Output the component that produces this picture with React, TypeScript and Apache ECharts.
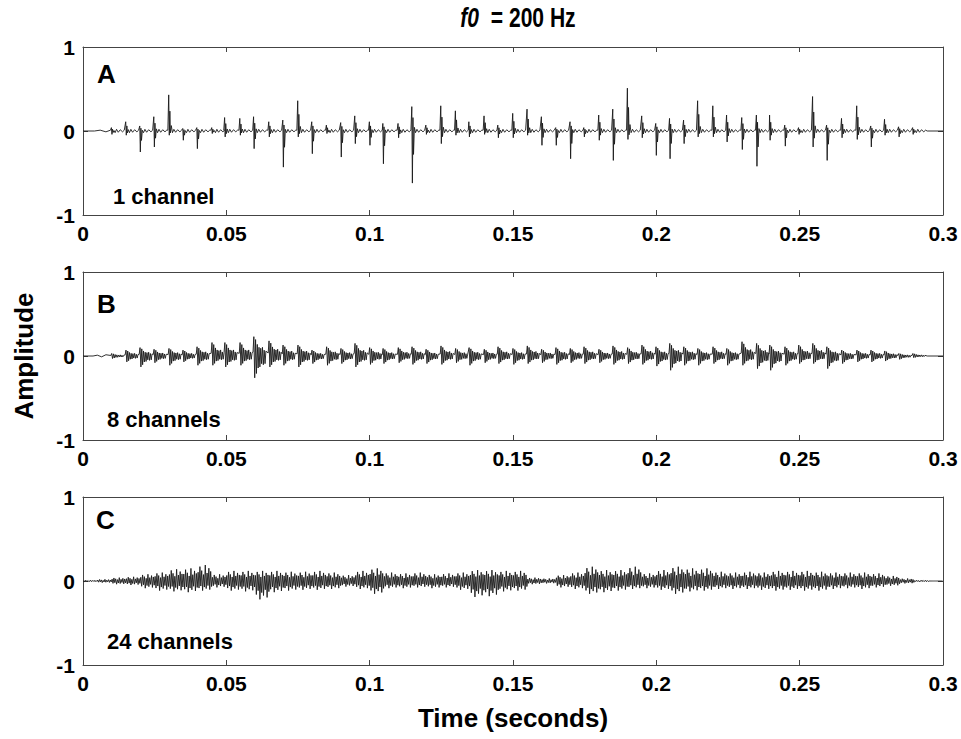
import React, { useEffect, useRef } from "react";
import * as echarts from "echarts";

// ---- Data ----
const X_TICKS = [0, 0.05, 0.1, 0.15, 0.2, 0.25, 0.3];
const Y_TICKS = [-1, 0, 1];
const PANEL_LETTERS = ["A", "B", "C"];
const PANEL_NOTES = ["1 channel", "8 channels", "24 channels"];

// pulse times (s) shared by panels A and B (one pulse per f0 period)
const PULSE_TIMES = [
  0.0100, 0.0150, 0.0199, 0.0248, 0.0300, 0.0349, 0.0398, 0.0450, 0.0495, 0.0548,
  0.0596, 0.0649, 0.0698, 0.0750, 0.0799, 0.0850, 0.0900, 0.0949, 0.1000, 0.1047,
  0.1100, 0.1148, 0.1197, 0.1249, 0.1300, 0.1347, 0.1400, 0.1448, 0.1500, 0.1550,
  0.1600, 0.1650, 0.1700, 0.1748, 0.1800, 0.1849, 0.1900, 0.1950, 0.1999, 0.2047,
  0.2096, 0.2145, 0.2198, 0.2246, 0.2299, 0.2350, 0.2396, 0.2449, 0.2497, 0.2546,
  0.2595, 0.2647, 0.2700, 0.2749, 0.2797, 0.2846, 0.2895,
];

// Panel A: positive and negative peak of each pulse
const UP_A = [
  0.04, 0.11, 0.06, 0.17, 0.43, 0.03, 0.04, 0.04, 0.16, 0.15,
  0.17, 0.11, 0.13, 0.36, 0.11, 0.07, 0.10, 0.18, 0.11, 0.09,
  0.09, 0.29, 0.07, 0.30, 0.24, 0.11, 0.18, 0.07, 0.21, 0.26,
  0.17, 0.04, 0.11, 0.04, 0.19, 0.26, 0.51, 0.18, 0.09, 0.15,
  0.13, 0.36, 0.30, 0.19, 0.16, 0.19, 0.19, 0.07, 0.04, 0.41,
  0.07, 0.15, 0.30, 0.06, 0.14, 0.05, 0.04,
];
const DOWN_A = [
  -0.04, -0.05, -0.25, -0.19, -0.05, -0.11, -0.21, -0.03, -0.07, -0.05,
  -0.21, -0.07, -0.43, -0.07, -0.27, -0.03, -0.31, -0.15, -0.17, -0.39,
  -0.08, -0.62, -0.04, -0.15, -0.05, -0.07, -0.04, -0.08, -0.08, -0.05,
  -0.17, -0.17, -0.33, -0.07, -0.11, -0.35, -0.10, -0.08, -0.29, -0.33,
  -0.15, -0.07, -0.07, -0.13, -0.22, -0.42, -0.11, -0.18, -0.04, -0.19,
  -0.35, -0.08, -0.10, -0.19, -0.05, -0.07, -0.04,
];

// Panel B: positive and negative peak of each burst
const UP_B = [
  0.03, 0.07, 0.10, 0.08, 0.09, 0.07, 0.11, 0.16, 0.16, 0.16,
  0.23, 0.18, 0.13, 0.13, 0.07, 0.11, 0.09, 0.15, 0.10, 0.09,
  0.10, 0.11, 0.08, 0.12, 0.09, 0.10, 0.08, 0.11, 0.09, 0.12,
  0.08, 0.10, 0.09, 0.11, 0.08, 0.12, 0.10, 0.13, 0.11, 0.15,
  0.11, 0.09, 0.11, 0.09, 0.17, 0.15, 0.13, 0.11, 0.13, 0.15,
  0.11, 0.07, 0.07, 0.07, 0.06, 0.03, 0.03,
];
const DOWN_B = [
  -0.03, -0.07, -0.13, -0.08, -0.11, -0.07, -0.11, -0.11, -0.13, -0.11,
  -0.26, -0.13, -0.11, -0.13, -0.09, -0.11, -0.09, -0.13, -0.10, -0.09,
  -0.08, -0.10, -0.09, -0.10, -0.08, -0.11, -0.08, -0.09, -0.10, -0.09,
  -0.08, -0.10, -0.08, -0.09, -0.08, -0.10, -0.09, -0.10, -0.12, -0.17,
  -0.11, -0.11, -0.09, -0.11, -0.11, -0.15, -0.17, -0.11, -0.09, -0.09,
  -0.15, -0.09, -0.07, -0.07, -0.06, -0.04, -0.02,
];

// Panel C: envelope per 5 ms window (window k starts at k * 0.005 s)
const C_WINDOW = 0.005;
const UP_C = [
  0.01, 0.02, 0.04, 0.05, 0.08, 0.10, 0.14, 0.15, 0.19, 0.08,
  0.12, 0.12, 0.12, 0.12, 0.11, 0.11, 0.12, 0.10, 0.07, 0.12,
  0.15, 0.10, 0.09, 0.10, 0.08, 0.09, 0.10, 0.13, 0.13, 0.12,
  0.12, 0.04, 0.03, 0.07, 0.10, 0.17, 0.13, 0.13, 0.17, 0.09,
  0.13, 0.17, 0.15, 0.15, 0.11, 0.10, 0.11, 0.10, 0.12, 0.12,
  0.12, 0.11, 0.10, 0.10, 0.10, 0.09, 0.06, 0.03, 0.01, 0.0,
];
const DOWN_C = [
  -0.01, -0.02, -0.04, -0.05, -0.09, -0.12, -0.13, -0.14, -0.12, -0.08,
  -0.12, -0.13, -0.23, -0.14, -0.12, -0.11, -0.11, -0.10, -0.07, -0.10,
  -0.16, -0.09, -0.09, -0.08, -0.09, -0.08, -0.11, -0.20, -0.19, -0.13,
  -0.12, -0.04, -0.03, -0.08, -0.10, -0.16, -0.14, -0.12, -0.10, -0.09,
  -0.11, -0.16, -0.13, -0.12, -0.10, -0.10, -0.10, -0.11, -0.12, -0.11,
  -0.12, -0.12, -0.10, -0.09, -0.10, -0.08, -0.06, -0.03, -0.01, 0.0,
];

// ---- waveform drawing shapes (style, not data) ----
const B_SHAPE = [0.2, 1, -1, 0.85, -0.8, 0.6, -0.55, 0.45, -0.5, 0.4, -0.35, 0.45, -0.4, 0.3, -0.35, 0.25];
const C_SHAPE = [0.55, -0.7, 0.9, -0.5, 0.65, -0.95, 0.4, -0.6, 1.0, -0.75, 0.5, -0.45, 0.8, -0.85, 0.6, -0.55];

const scale = (m: number, u: number, d: number) => (m >= 0 ? m * u : -m * d);

function buildA(): number[][] {
  const pts: number[][] = [[0, 0], [0.004, 0], [0.006, 0.01], [0.008, -0.01]];
  PULSE_TIMES.forEach((t, i) => {
    const u = UP_A[i];
    const d = DOWN_A[i];
    pts.push([t - 0.0004, 0.01]);
    pts.push([t - 0.0001, u]);
    pts.push([t + 0.0001, d]);
    pts.push([t + 0.0003, u * 0.55]);
    pts.push([t + 0.0005, d * 0.45]);
    pts.push([t + 0.0008, u * 0.15]);
    pts.push([t + 0.0012, -0.02]);
    pts.push([t + 0.0017, 0.02]);
    pts.push([t + 0.0023, -0.015]);
    pts.push([t + 0.003, 0.015]);
    pts.push([t + 0.0038, -0.01]);
    pts.push([t + 0.0044, 0.01]);
  });
  pts.push([0.2945, 0]);
  pts.push([0.3, 0]);
  return pts;
}

function buildB(): number[][] {
  const pts: number[][] = [[0, 0], [0.0035, 0], [0.005, 0.01], [0.0065, -0.01], [0.008, 0.015]];
  PULSE_TIMES.forEach((t, i) => {
    B_SHAPE.forEach((m, k) => {
      pts.push([t - 0.0003 + k * 0.0003, scale(m, UP_B[i], DOWN_B[i])]);
    });
  });
  pts.push([0.2945, 0]);
  pts.push([0.3, 0]);
  return pts;
}

function buildC(): number[][] {
  const pts: number[][] = [[0, 0]];
  const step = C_WINDOW / C_SHAPE.length;
  UP_C.forEach((u, w) => {
    const d = DOWN_C[w];
    C_SHAPE.forEach((m, k) => {
      pts.push([w * C_WINDOW + (k + 0.5) * step, scale(m, u, d)]);
    });
  });
  pts.push([0.3, 0]);
  return pts;
}

const FONT = "Liberation Sans";
const AXIS_COLOR = "#444";
const GRID_TOPS = [47, 272, 497];
const GRID_LEFT = 83;
const GRID_W = 860;
const GRID_H = 168;

function buildOption() {
  const grids = GRID_TOPS.map((top) => ({ left: GRID_LEFT, top, width: GRID_W, height: GRID_H }));
  const xAxes: any[] = [];
  const yAxes: any[] = [];
  GRID_TOPS.forEach((_, g) => {
    const common = {
      gridIndex: g,
      type: "value",
      min: X_TICKS[0],
      max: X_TICKS[X_TICKS.length - 1],
      interval: X_TICKS[1] - X_TICKS[0],
      axisLine: { show: true, onZero: false, lineStyle: { color: AXIS_COLOR, width: 1 } },
      axisTick: { show: true, inside: true, length: 5, lineStyle: { color: AXIS_COLOR } },
      splitLine: { show: false },
    };
    xAxes.push({
      ...common,
      position: "bottom",
      axisLabel: {
        show: true,
        margin: 8,
        color: "#000",
        fontFamily: FONT,
        fontWeight: "bold",
        fontSize: 21,
        formatter: (v: number) => String(Math.round(v * 100) / 100),
      },
    });
    xAxes.push({ ...common, position: "top", axisLabel: { show: false } });
    const ycommon = {
      gridIndex: g,
      type: "value",
      min: Y_TICKS[0],
      max: Y_TICKS[Y_TICKS.length - 1],
      interval: 1,
      axisLine: { show: true, onZero: false, lineStyle: { color: AXIS_COLOR, width: 1 } },
      axisTick: { show: true, inside: true, length: 5, lineStyle: { color: AXIS_COLOR } },
      splitLine: { show: false },
    };
    yAxes.push({
      ...ycommon,
      position: "left",
      axisLabel: { show: true, margin: 8, color: "#000", fontFamily: FONT, fontWeight: "bold", fontSize: 21 },
    });
    yAxes.push({ ...ycommon, position: "right", axisLabel: { show: false } });
  });

  const datasets = [buildA(), buildB(), buildC()];
  const series = datasets.map((data, g) => ({
    type: "line",
    xAxisIndex: g * 2,
    yAxisIndex: g * 2,
    data,
    showSymbol: false,
    symbol: "none",
    lineStyle: { color: "#1a1a1a", width: 0.9 },
    silent: true,
  }));

  const letterPos = [
    { x: 97, y: 87 },
    { x: 97, y: 317 },
    { x: 96, y: 533 },
  ];
  const notePos = [
    { x: 113, y: 207 },
    { x: 107, y: 430 },
    { x: 107, y: 652 },
  ];
  const graphics: any[] = [];
  PANEL_LETTERS.forEach((L, i) => {
    graphics.push({
      type: "text",
      x: letterPos[i].x,
      y: letterPos[i].y,
      style: { text: L, fontFamily: FONT, fontWeight: "bold", fontSize: 26, fill: "#000", verticalAlign: "bottom" },
    });
    graphics.push({
      type: "text",
      x: notePos[i].x,
      y: notePos[i].y,
      style: { text: PANEL_NOTES[i], fontFamily: FONT, fontWeight: "bold", fontSize: 22, fill: "#000", verticalAlign: "bottom" },
    });
  });
  graphics.push({
    type: "text",
    x: 24,
    y: 356,
    rotation: Math.PI / 2,
    style: { text: "Amplitude", fontFamily: FONT, fontWeight: "bold", fontSize: 26, fill: "#000", align: "center", verticalAlign: "middle" },
  });
  graphics.push({
    type: "text",
    x: 513,
    y: 718,
    style: { text: "Time (seconds)", fontFamily: FONT, fontWeight: "bold", fontSize: 26, fill: "#000", align: "center", verticalAlign: "middle" },
  });
  graphics.push({
    type: "text",
    x: 518,
    y: 18,
    scaleX: 0.78,
    style: {
      text: "{i|f0}  = 200 Hz",
      fontFamily: FONT,
      fontWeight: "bold",
      fontSize: 27,
      fill: "#000",
      align: "center",
      verticalAlign: "middle",
      rich: { i: { fontStyle: "italic", fontWeight: "bold", fontFamily: FONT, fontSize: 27, fill: "#000" } },
    },
  });

  return {
    animation: false,
    backgroundColor: "#fff",
    grid: grids,
    xAxis: xAxes,
    yAxis: yAxes,
    series,
    graphic: graphics,
  };
}

export default function App() {
  const ref = useRef<HTMLDivElement>(null);
  useEffect(() => {
    document.body.style.margin = "0";
    const chart = echarts.init(ref.current as HTMLDivElement, null, { renderer: "svg" });
    chart.setOption(buildOption() as any);
    return () => chart.dispose();
  }, []);
  return <div ref={ref} style={{ position: "absolute", left: 0, top: 0, width: 961, height: 739 }} />;
}
